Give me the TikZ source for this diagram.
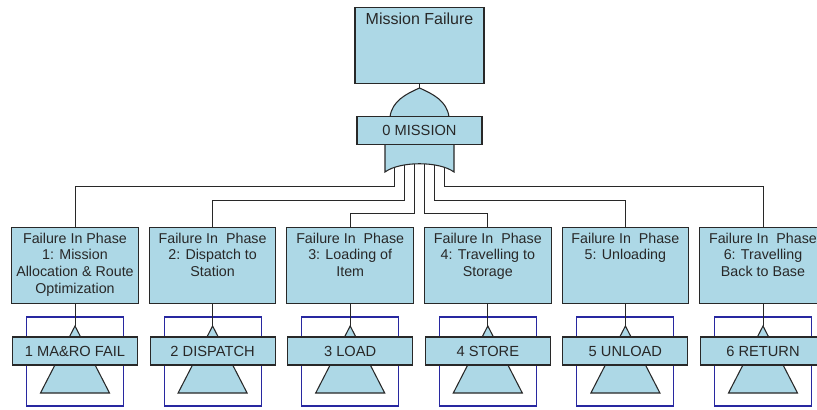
\documentclass[tikz,border=0pt]{standalone}
\usepackage{fontspec}
\setmainfont{Liberation Sans}
\usetikzlibrary{calc}
\definecolor{gatefill}{RGB}{173,216,230}
\definecolor{edge}{RGB}{40,40,40}
\definecolor{frameblue}{RGB}{40,40,160}
\tikzset{
	ftbox/.style={draw=edge, fill=gatefill, line width=0.8pt, inner sep=0pt, text=edge},
	labelbox/.style={ftbox, minimum width=93.75pt, minimum height=21pt, font=\fontsize{11}{13}\selectfont},
	link/.style={draw=edge, line width=0.75pt}
}

\begin{document}
\begin{tikzpicture}[x=0.75pt, y=-0.75pt]
		%%%%% START %%%%%
		\useasboundingbox (0,0) rectangle (817,410);
		
		\foreach \i/\lvl/\txt/\lab in {
			1/186/{Failure In Phase\\1: Mission\\Allocation \& Route\\Optimization}/{1 MA\&RO FAIL},
			2/200/{Failure In\ \ Phase\\2: Dispatch to\\Station}/{2 DISPATCH},
			3/213/{Failure In\ \ Phase\\3: Loading of\\Item}/{3 LOAD},
			4/213/{Failure In\ \ Phase\\4: Travelling to\\Storage}/{4 STORE},
			5/200/{Failure In\ \ Phase\\5: Unloading}/{5 UNLOAD},
			6/186/{Failure In\ \ Phase\\6: Travelling\\Back to Base}/{6 RETURN}} {
			\pgfmathsetmacro{\cx}{75+137.6*(\i-1)}
			\pgfmathsetmacro{\ox}{394.5+10*(\i-1)}
			\coordinate (o\i) at (\ox,160);
			\coordinate (t\i) at (\cx,326);
			
			\draw[frameblue, line width=0.8pt] (\cx-48.5,317) rectangle (\cx+48.5,406);
			\node[ftbox, anchor=north] (p\i) at (\cx,227) {\parbox[t][57pt][t]{95pt}{\centering\fontsize{10.7}{12.5}\selectfont\vspace*{4pt}\txt}};
			\draw[link] (o\i) |- (p\i.north |- 0,\lvl) -- (p\i.north);
			\draw[link] (p\i.south) -- (t\i);
			\draw[ftbox] (t\i) -- (\cx+34.5,393) -- (\cx-34.5,393) -- cycle;
			\node[labelbox] (l\i) at (\cx,351) {\lab};
		}
		
		% top event and OR gate
		\node[ftbox, anchor=north] (top) at (419.5,7) {\parbox[t][57pt][t]{96.75pt}{\centering\fontsize{12}{14}\selectfont\vspace*{4pt}Mission Failure}};
		\coordinate (apex) at (419.5,88);
		\draw[link] (top.south) -- (apex);
		\draw[ftbox] (390,117) .. controls (392,101) and (406,94) .. (apex) .. controls (433,94) and (447,101) .. (449,117) -- cycle;
		\draw[ftbox] (385,144) -- (385,172) .. controls (400,161) and (439,161) .. (454,172) -- (454,144) -- cycle;
		\node[labelbox] (g0) at (419.5,130.5) {0 MISSION};
		
		%%%%% END %%%%%
	\end{tikzpicture}
\end{document}
